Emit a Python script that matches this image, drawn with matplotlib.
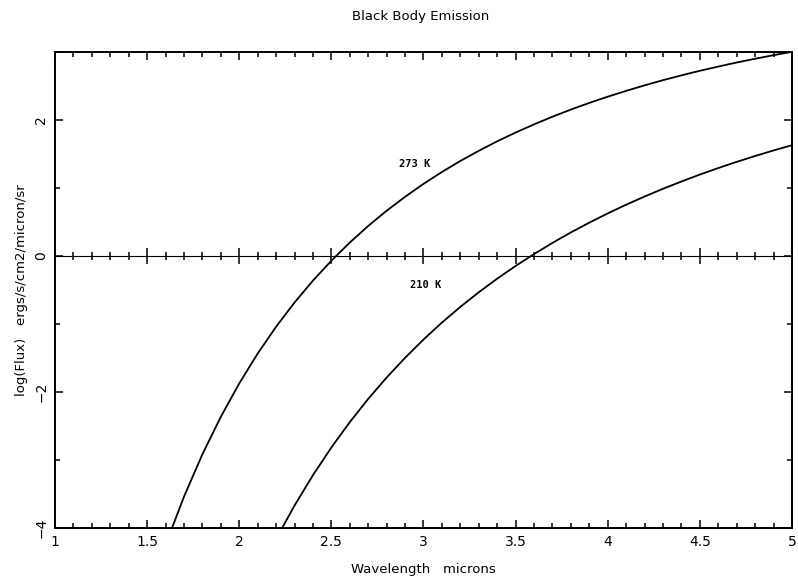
import matplotlib

matplotlib.use("Agg")
import matplotlib.pyplot as plt  # noqa: E402
from matplotlib.ticker import MultipleLocator, NullFormatter  # noqa: E402

# wavelength grid (microns) and log10 flux
WAVE_273 = [1.6, 1.7, 1.8, 1.9, 2.0, 2.1, 2.2, 2.3, 2.4, 2.5, 2.6, 2.7, 2.8, 2.9,
            3.0, 3.1, 3.2, 3.3, 3.4, 3.5, 3.6, 3.7, 3.8, 3.9, 4.0, 4.1, 4.2, 4.3,
            4.4, 4.5, 4.6, 4.7, 4.8, 4.9, 5.0]
FLUX_273 = [-4.250, -3.540, -2.916, -2.365, -1.874, -1.435, -1.040, -0.684, -0.362,
            -0.069, 0.198, 0.442, 0.666, 0.871, 1.061, 1.236, 1.398, 1.547, 1.687,
            1.816, 1.936, 2.049, 2.154, 2.252, 2.343, 2.429, 2.510, 2.586, 2.657,
            2.724, 2.786, 2.846, 2.901, 2.954, 3.003]

WAVE_210 = [2.2, 2.3, 2.4, 2.5, 2.6, 2.7, 2.8, 2.9, 3.0, 3.1, 3.2, 3.3, 3.4, 3.5,
            3.6, 3.7, 3.8, 3.9, 4.0, 4.1, 4.2, 4.3, 4.4, 4.5, 4.6, 4.7, 4.8, 4.9, 5.0]
FLUX_210 = [-4.161, -3.670, -3.223, -2.816, -2.443, -2.101, -1.787, -1.497, -1.228,
            -0.979, -0.748, -0.533, -0.333, -0.146, 0.029, 0.193, 0.347, 0.491,
            0.627, 0.755, 0.875, 0.989, 1.096, 1.198, 1.294, 1.385, 1.471, 1.553, 1.630]

X_TICKS = [1, 1.5, 2, 2.5, 3, 3.5, 4, 4.5, 5]
X_TICK_LABELS = ["1", "1.5", "2", "2.5", "3", "3.5", "4", "4.5", "5"]
Y_TICKS = [-4, -2, 0, 2]

FONT = "DejaVu Sans"


def main():
    fig = plt.figure(figsize=(7.98, 5.78), dpi=100)
    ax = fig.add_axes([0.0689, 0.0865, 0.9236, 0.8235])

    ax.plot(WAVE_273, FLUX_273, color="black", lw=1.3)
    ax.plot(WAVE_210, FLUX_210, color="black", lw=1.3)

    ax.set_xlim(1, 5)
    ax.set_ylim(-4, 3)
    for sp in ax.spines.values():
        sp.set_linewidth(1.4)

    ax.set_xticks(X_TICKS)
    ax.set_xticklabels(X_TICK_LABELS, fontsize=10, family=FONT)
    ax.xaxis.set_minor_locator(MultipleLocator(0.1))
    ax.set_yticks(Y_TICKS)
    ax.set_yticklabels([str(v).replace("-", "\u2212") for v in Y_TICKS],
                       fontsize=10, family=FONT, rotation=90, va="center")
    ax.yaxis.set_minor_locator(MultipleLocator(1))
    ax.tick_params(which="both", direction="in", top=True, right=True, width=1.1)
    ax.tick_params(which="major", length=6, pad=5)
    ax.tick_params(which="minor", length=3.5)

    # zero line carrying its own crossing ticks
    zero = ax.secondary_xaxis(4 / 7)
    zero.spines["bottom"].set_linewidth(1.2)
    zero.set_xticks(X_TICKS)
    zero.xaxis.set_major_formatter(NullFormatter())
    zero.xaxis.set_minor_locator(MultipleLocator(0.1))
    zero.tick_params(which="both", direction="inout", labelbottom=False,
                     labeltop=False, width=1.1)
    zero.tick_params(which="major", length=11)
    zero.tick_params(which="minor", length=6)

    ax.text(2.95, 1.35, "273 K", fontsize=7.5, family="DejaVu Sans Mono",
            fontweight="bold", ha="center", va="center")
    ax.text(3.01, -0.42, "210 K", fontsize=7.5, family="DejaVu Sans Mono",
            fontweight="bold", ha="center", va="center")

    ax.set_xlabel("Wavelength   microns", fontsize=9.5, family=FONT, labelpad=10)
    ax.set_ylabel("log(Flux)   ergs/s/cm2/micron/sr", fontsize=9.5, family=FONT,
                  labelpad=4)
    fig.text(0.527, 0.972, "Black Body Emission", fontsize=9.5, family=FONT,
             ha="center", va="center")

    fig.savefig("out.png", dpi=100)
    plt.close(fig)


if __name__ == "__main__":
    main()
